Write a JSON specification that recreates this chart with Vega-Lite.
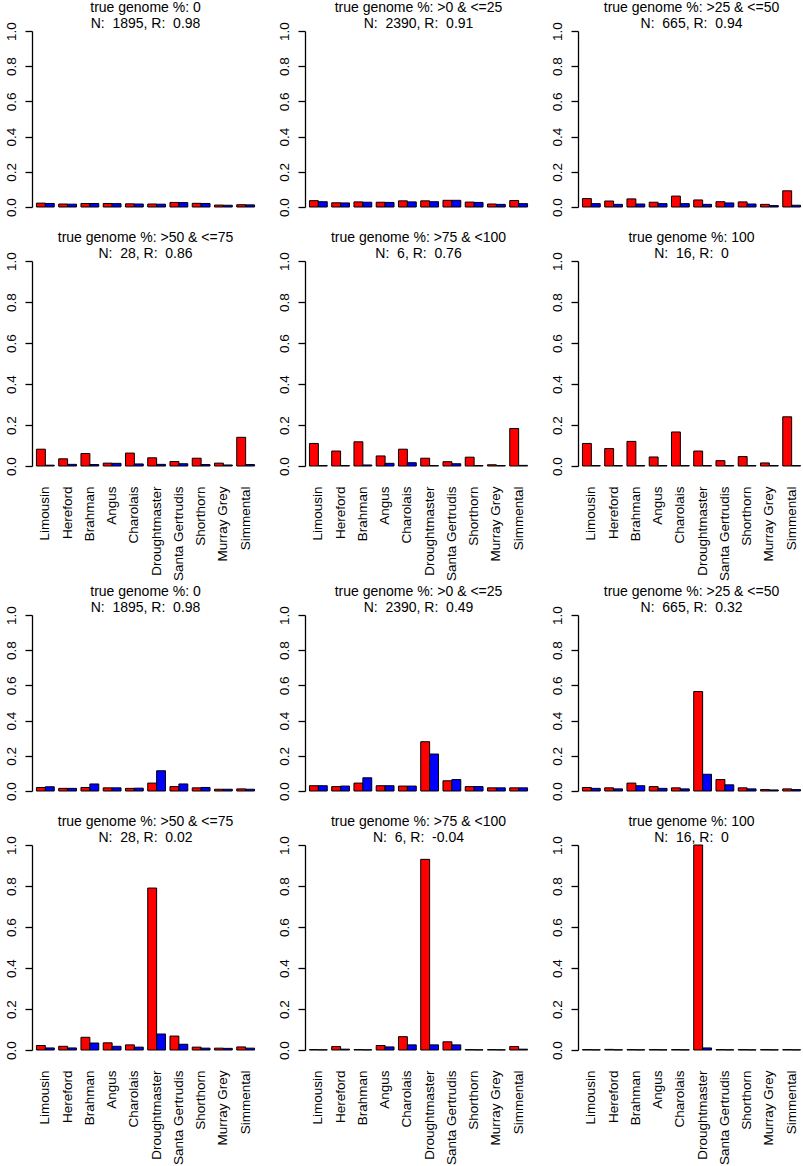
{
  "$schema": "https://vega.github.io/schema/vega-lite/v6.json",
  "padding": {"left": 4, "top": 0, "right": 0, "bottom": 0},
  "background": "white",
  "datasets": {
    "d": [
      {"panel": 1, "breed": "Limousin", "series": "A", "value": 0.022},
      {"panel": 1, "breed": "Limousin", "series": "B", "value": 0.020},
      {"panel": 1, "breed": "Hereford", "series": "A", "value": 0.017},
      {"panel": 1, "breed": "Hereford", "series": "B", "value": 0.016},
      {"panel": 1, "breed": "Brahman", "series": "A", "value": 0.020},
      {"panel": 1, "breed": "Brahman", "series": "B", "value": 0.020},
      {"panel": 1, "breed": "Angus", "series": "A", "value": 0.020},
      {"panel": 1, "breed": "Angus", "series": "B", "value": 0.019},
      {"panel": 1, "breed": "Charolais", "series": "A", "value": 0.018},
      {"panel": 1, "breed": "Charolais", "series": "B", "value": 0.017},
      {"panel": 1, "breed": "Droughtmaster", "series": "A", "value": 0.017},
      {"panel": 1, "breed": "Droughtmaster", "series": "B", "value": 0.016},
      {"panel": 1, "breed": "Santa Gertrudis", "series": "A", "value": 0.026},
      {"panel": 1, "breed": "Santa Gertrudis", "series": "B", "value": 0.025},
      {"panel": 1, "breed": "Shorthorn", "series": "A", "value": 0.021},
      {"panel": 1, "breed": "Shorthorn", "series": "B", "value": 0.020},
      {"panel": 1, "breed": "Murray Grey", "series": "A", "value": 0.011},
      {"panel": 1, "breed": "Murray Grey", "series": "B", "value": 0.010},
      {"panel": 1, "breed": "Simmental", "series": "A", "value": 0.013},
      {"panel": 1, "breed": "Simmental", "series": "B", "value": 0.012},

      {"panel": 2, "breed": "Limousin", "series": "A", "value": 0.036},
      {"panel": 2, "breed": "Limousin", "series": "B", "value": 0.030},
      {"panel": 2, "breed": "Hereford", "series": "A", "value": 0.024},
      {"panel": 2, "breed": "Hereford", "series": "B", "value": 0.023},
      {"panel": 2, "breed": "Brahman", "series": "A", "value": 0.029},
      {"panel": 2, "breed": "Brahman", "series": "B", "value": 0.027},
      {"panel": 2, "breed": "Angus", "series": "A", "value": 0.027},
      {"panel": 2, "breed": "Angus", "series": "B", "value": 0.026},
      {"panel": 2, "breed": "Charolais", "series": "A", "value": 0.035},
      {"panel": 2, "breed": "Charolais", "series": "B", "value": 0.029},
      {"panel": 2, "breed": "Droughtmaster", "series": "A", "value": 0.035},
      {"panel": 2, "breed": "Droughtmaster", "series": "B", "value": 0.030},
      {"panel": 2, "breed": "Santa Gertrudis", "series": "A", "value": 0.038},
      {"panel": 2, "breed": "Santa Gertrudis", "series": "B", "value": 0.038},
      {"panel": 2, "breed": "Shorthorn", "series": "A", "value": 0.028},
      {"panel": 2, "breed": "Shorthorn", "series": "B", "value": 0.026},
      {"panel": 2, "breed": "Murray Grey", "series": "A", "value": 0.017},
      {"panel": 2, "breed": "Murray Grey", "series": "B", "value": 0.015},
      {"panel": 2, "breed": "Simmental", "series": "A", "value": 0.037},
      {"panel": 2, "breed": "Simmental", "series": "B", "value": 0.019},

      {"panel": 3, "breed": "Limousin", "series": "A", "value": 0.048},
      {"panel": 3, "breed": "Limousin", "series": "B", "value": 0.019},
      {"panel": 3, "breed": "Hereford", "series": "A", "value": 0.034},
      {"panel": 3, "breed": "Hereford", "series": "B", "value": 0.015},
      {"panel": 3, "breed": "Brahman", "series": "A", "value": 0.046},
      {"panel": 3, "breed": "Brahman", "series": "B", "value": 0.017},
      {"panel": 3, "breed": "Angus", "series": "A", "value": 0.027},
      {"panel": 3, "breed": "Angus", "series": "B", "value": 0.019},
      {"panel": 3, "breed": "Charolais", "series": "A", "value": 0.062},
      {"panel": 3, "breed": "Charolais", "series": "B", "value": 0.019},
      {"panel": 3, "breed": "Droughtmaster", "series": "A", "value": 0.040},
      {"panel": 3, "breed": "Droughtmaster", "series": "B", "value": 0.015},
      {"panel": 3, "breed": "Santa Gertrudis", "series": "A", "value": 0.030},
      {"panel": 3, "breed": "Santa Gertrudis", "series": "B", "value": 0.023},
      {"panel": 3, "breed": "Shorthorn", "series": "A", "value": 0.029},
      {"panel": 3, "breed": "Shorthorn", "series": "B", "value": 0.017},
      {"panel": 3, "breed": "Murray Grey", "series": "A", "value": 0.015},
      {"panel": 3, "breed": "Murray Grey", "series": "B", "value": 0.008},
      {"panel": 3, "breed": "Simmental", "series": "A", "value": 0.092},
      {"panel": 3, "breed": "Simmental", "series": "B", "value": 0.010},

      {"panel": 4, "breed": "Limousin", "series": "A", "value": 0.082},
      {"panel": 4, "breed": "Limousin", "series": "B", "value": 0.004},
      {"panel": 4, "breed": "Hereford", "series": "A", "value": 0.035},
      {"panel": 4, "breed": "Hereford", "series": "B", "value": 0.008},
      {"panel": 4, "breed": "Brahman", "series": "A", "value": 0.061},
      {"panel": 4, "breed": "Brahman", "series": "B", "value": 0.007},
      {"panel": 4, "breed": "Angus", "series": "A", "value": 0.014},
      {"panel": 4, "breed": "Angus", "series": "B", "value": 0.013},
      {"panel": 4, "breed": "Charolais", "series": "A", "value": 0.063},
      {"panel": 4, "breed": "Charolais", "series": "B", "value": 0.010},
      {"panel": 4, "breed": "Droughtmaster", "series": "A", "value": 0.040},
      {"panel": 4, "breed": "Droughtmaster", "series": "B", "value": 0.008},
      {"panel": 4, "breed": "Santa Gertrudis", "series": "A", "value": 0.022},
      {"panel": 4, "breed": "Santa Gertrudis", "series": "B", "value": 0.011},
      {"panel": 4, "breed": "Shorthorn", "series": "A", "value": 0.038},
      {"panel": 4, "breed": "Shorthorn", "series": "B", "value": 0.007},
      {"panel": 4, "breed": "Murray Grey", "series": "A", "value": 0.014},
      {"panel": 4, "breed": "Murray Grey", "series": "B", "value": 0.005},
      {"panel": 4, "breed": "Simmental", "series": "A", "value": 0.140},
      {"panel": 4, "breed": "Simmental", "series": "B", "value": 0.007},

      {"panel": 5, "breed": "Limousin", "series": "A", "value": 0.110},
      {"panel": 5, "breed": "Limousin", "series": "B", "value": 0.002},
      {"panel": 5, "breed": "Hereford", "series": "A", "value": 0.073},
      {"panel": 5, "breed": "Hereford", "series": "B", "value": 0.002},
      {"panel": 5, "breed": "Brahman", "series": "A", "value": 0.118},
      {"panel": 5, "breed": "Brahman", "series": "B", "value": 0.005},
      {"panel": 5, "breed": "Angus", "series": "A", "value": 0.049},
      {"panel": 5, "breed": "Angus", "series": "B", "value": 0.013},
      {"panel": 5, "breed": "Charolais", "series": "A", "value": 0.082},
      {"panel": 5, "breed": "Charolais", "series": "B", "value": 0.016},
      {"panel": 5, "breed": "Droughtmaster", "series": "A", "value": 0.038},
      {"panel": 5, "breed": "Droughtmaster", "series": "B", "value": 0.002},
      {"panel": 5, "breed": "Santa Gertrudis", "series": "A", "value": 0.021},
      {"panel": 5, "breed": "Santa Gertrudis", "series": "B", "value": 0.011},
      {"panel": 5, "breed": "Shorthorn", "series": "A", "value": 0.043},
      {"panel": 5, "breed": "Shorthorn", "series": "B", "value": 0.002},
      {"panel": 5, "breed": "Murray Grey", "series": "A", "value": 0.006},
      {"panel": 5, "breed": "Murray Grey", "series": "B", "value": 0.002},
      {"panel": 5, "breed": "Simmental", "series": "A", "value": 0.183},
      {"panel": 5, "breed": "Simmental", "series": "B", "value": 0.003},

      {"panel": 6, "breed": "Limousin", "series": "A", "value": 0.110},
      {"panel": 6, "breed": "Limousin", "series": "B", "value": 0.002},
      {"panel": 6, "breed": "Hereford", "series": "A", "value": 0.085},
      {"panel": 6, "breed": "Hereford", "series": "B", "value": 0.002},
      {"panel": 6, "breed": "Brahman", "series": "A", "value": 0.120},
      {"panel": 6, "breed": "Brahman", "series": "B", "value": 0.002},
      {"panel": 6, "breed": "Angus", "series": "A", "value": 0.044},
      {"panel": 6, "breed": "Angus", "series": "B", "value": 0.002},
      {"panel": 6, "breed": "Charolais", "series": "A", "value": 0.166},
      {"panel": 6, "breed": "Charolais", "series": "B", "value": 0.002},
      {"panel": 6, "breed": "Droughtmaster", "series": "A", "value": 0.073},
      {"panel": 6, "breed": "Droughtmaster", "series": "B", "value": 0.002},
      {"panel": 6, "breed": "Santa Gertrudis", "series": "A", "value": 0.026},
      {"panel": 6, "breed": "Santa Gertrudis", "series": "B", "value": 0.002},
      {"panel": 6, "breed": "Shorthorn", "series": "A", "value": 0.046},
      {"panel": 6, "breed": "Shorthorn", "series": "B", "value": 0.002},
      {"panel": 6, "breed": "Murray Grey", "series": "A", "value": 0.015},
      {"panel": 6, "breed": "Murray Grey", "series": "B", "value": 0.002},
      {"panel": 6, "breed": "Simmental", "series": "A", "value": 0.240},
      {"panel": 6, "breed": "Simmental", "series": "B", "value": 0.002},

      {"panel": 7, "breed": "Limousin", "series": "A", "value": 0.020},
      {"panel": 7, "breed": "Limousin", "series": "B", "value": 0.024},
      {"panel": 7, "breed": "Hereford", "series": "A", "value": 0.015},
      {"panel": 7, "breed": "Hereford", "series": "B", "value": 0.015},
      {"panel": 7, "breed": "Brahman", "series": "A", "value": 0.020},
      {"panel": 7, "breed": "Brahman", "series": "B", "value": 0.040},
      {"panel": 7, "breed": "Angus", "series": "A", "value": 0.018},
      {"panel": 7, "breed": "Angus", "series": "B", "value": 0.018},
      {"panel": 7, "breed": "Charolais", "series": "A", "value": 0.015},
      {"panel": 7, "breed": "Charolais", "series": "B", "value": 0.016},
      {"panel": 7, "breed": "Droughtmaster", "series": "A", "value": 0.045},
      {"panel": 7, "breed": "Droughtmaster", "series": "B", "value": 0.115},
      {"panel": 7, "breed": "Santa Gertrudis", "series": "A", "value": 0.025},
      {"panel": 7, "breed": "Santa Gertrudis", "series": "B", "value": 0.040},
      {"panel": 7, "breed": "Shorthorn", "series": "A", "value": 0.018},
      {"panel": 7, "breed": "Shorthorn", "series": "B", "value": 0.020},
      {"panel": 7, "breed": "Murray Grey", "series": "A", "value": 0.010},
      {"panel": 7, "breed": "Murray Grey", "series": "B", "value": 0.010},
      {"panel": 7, "breed": "Simmental", "series": "A", "value": 0.012},
      {"panel": 7, "breed": "Simmental", "series": "B", "value": 0.010},

      {"panel": 8, "breed": "Limousin", "series": "A", "value": 0.030},
      {"panel": 8, "breed": "Limousin", "series": "B", "value": 0.030},
      {"panel": 8, "breed": "Hereford", "series": "A", "value": 0.025},
      {"panel": 8, "breed": "Hereford", "series": "B", "value": 0.028},
      {"panel": 8, "breed": "Brahman", "series": "A", "value": 0.045},
      {"panel": 8, "breed": "Brahman", "series": "B", "value": 0.075},
      {"panel": 8, "breed": "Angus", "series": "A", "value": 0.030},
      {"panel": 8, "breed": "Angus", "series": "B", "value": 0.030},
      {"panel": 8, "breed": "Charolais", "series": "A", "value": 0.028},
      {"panel": 8, "breed": "Charolais", "series": "B", "value": 0.028},
      {"panel": 8, "breed": "Droughtmaster", "series": "A", "value": 0.280},
      {"panel": 8, "breed": "Droughtmaster", "series": "B", "value": 0.210},
      {"panel": 8, "breed": "Santa Gertrudis", "series": "A", "value": 0.058},
      {"panel": 8, "breed": "Santa Gertrudis", "series": "B", "value": 0.065},
      {"panel": 8, "breed": "Shorthorn", "series": "A", "value": 0.025},
      {"panel": 8, "breed": "Shorthorn", "series": "B", "value": 0.025},
      {"panel": 8, "breed": "Murray Grey", "series": "A", "value": 0.018},
      {"panel": 8, "breed": "Murray Grey", "series": "B", "value": 0.018},
      {"panel": 8, "breed": "Simmental", "series": "A", "value": 0.018},
      {"panel": 8, "breed": "Simmental", "series": "B", "value": 0.018},

      {"panel": 9, "breed": "Limousin", "series": "A", "value": 0.020},
      {"panel": 9, "breed": "Limousin", "series": "B", "value": 0.015},
      {"panel": 9, "breed": "Hereford", "series": "A", "value": 0.018},
      {"panel": 9, "breed": "Hereford", "series": "B", "value": 0.012},
      {"panel": 9, "breed": "Brahman", "series": "A", "value": 0.045},
      {"panel": 9, "breed": "Brahman", "series": "B", "value": 0.030},
      {"panel": 9, "breed": "Angus", "series": "A", "value": 0.025},
      {"panel": 9, "breed": "Angus", "series": "B", "value": 0.015},
      {"panel": 9, "breed": "Charolais", "series": "A", "value": 0.018},
      {"panel": 9, "breed": "Charolais", "series": "B", "value": 0.012},
      {"panel": 9, "breed": "Droughtmaster", "series": "A", "value": 0.565},
      {"panel": 9, "breed": "Droughtmaster", "series": "B", "value": 0.095},
      {"panel": 9, "breed": "Santa Gertrudis", "series": "A", "value": 0.065},
      {"panel": 9, "breed": "Santa Gertrudis", "series": "B", "value": 0.035},
      {"panel": 9, "breed": "Shorthorn", "series": "A", "value": 0.018},
      {"panel": 9, "breed": "Shorthorn", "series": "B", "value": 0.012},
      {"panel": 9, "breed": "Murray Grey", "series": "A", "value": 0.008},
      {"panel": 9, "breed": "Murray Grey", "series": "B", "value": 0.006},
      {"panel": 9, "breed": "Simmental", "series": "A", "value": 0.012},
      {"panel": 9, "breed": "Simmental", "series": "B", "value": 0.008},

      {"panel": 10, "breed": "Limousin", "series": "A", "value": 0.022},
      {"panel": 10, "breed": "Limousin", "series": "B", "value": 0.010},
      {"panel": 10, "breed": "Hereford", "series": "A", "value": 0.018},
      {"panel": 10, "breed": "Hereford", "series": "B", "value": 0.010},
      {"panel": 10, "breed": "Brahman", "series": "A", "value": 0.062},
      {"panel": 10, "breed": "Brahman", "series": "B", "value": 0.034},
      {"panel": 10, "breed": "Angus", "series": "A", "value": 0.035},
      {"panel": 10, "breed": "Angus", "series": "B", "value": 0.018},
      {"panel": 10, "breed": "Charolais", "series": "A", "value": 0.025},
      {"panel": 10, "breed": "Charolais", "series": "B", "value": 0.014},
      {"panel": 10, "breed": "Droughtmaster", "series": "A", "value": 0.790},
      {"panel": 10, "breed": "Droughtmaster", "series": "B", "value": 0.078},
      {"panel": 10, "breed": "Santa Gertrudis", "series": "A", "value": 0.068},
      {"panel": 10, "breed": "Santa Gertrudis", "series": "B", "value": 0.028},
      {"panel": 10, "breed": "Shorthorn", "series": "A", "value": 0.014},
      {"panel": 10, "breed": "Shorthorn", "series": "B", "value": 0.009},
      {"panel": 10, "breed": "Murray Grey", "series": "A", "value": 0.009},
      {"panel": 10, "breed": "Murray Grey", "series": "B", "value": 0.008},
      {"panel": 10, "breed": "Simmental", "series": "A", "value": 0.015},
      {"panel": 10, "breed": "Simmental", "series": "B", "value": 0.009},

      {"panel": 11, "breed": "Limousin", "series": "A", "value": 0.002},
      {"panel": 11, "breed": "Limousin", "series": "B", "value": 0.001},
      {"panel": 11, "breed": "Hereford", "series": "A", "value": 0.017},
      {"panel": 11, "breed": "Hereford", "series": "B", "value": 0.004},
      {"panel": 11, "breed": "Brahman", "series": "A", "value": 0.002},
      {"panel": 11, "breed": "Brahman", "series": "B", "value": 0.001},
      {"panel": 11, "breed": "Angus", "series": "A", "value": 0.022},
      {"panel": 11, "breed": "Angus", "series": "B", "value": 0.015},
      {"panel": 11, "breed": "Charolais", "series": "A", "value": 0.065},
      {"panel": 11, "breed": "Charolais", "series": "B", "value": 0.025},
      {"panel": 11, "breed": "Droughtmaster", "series": "A", "value": 0.930},
      {"panel": 11, "breed": "Droughtmaster", "series": "B", "value": 0.025},
      {"panel": 11, "breed": "Santa Gertrudis", "series": "A", "value": 0.040},
      {"panel": 11, "breed": "Santa Gertrudis", "series": "B", "value": 0.025},
      {"panel": 11, "breed": "Shorthorn", "series": "A", "value": 0.002},
      {"panel": 11, "breed": "Shorthorn", "series": "B", "value": 0.001},
      {"panel": 11, "breed": "Murray Grey", "series": "A", "value": 0.002},
      {"panel": 11, "breed": "Murray Grey", "series": "B", "value": 0.001},
      {"panel": 11, "breed": "Simmental", "series": "A", "value": 0.017},
      {"panel": 11, "breed": "Simmental", "series": "B", "value": 0.004},

      {"panel": 12, "breed": "Limousin", "series": "A", "value": 0.002},
      {"panel": 12, "breed": "Limousin", "series": "B", "value": 0.001},
      {"panel": 12, "breed": "Hereford", "series": "A", "value": 0.003},
      {"panel": 12, "breed": "Hereford", "series": "B", "value": 0.001},
      {"panel": 12, "breed": "Brahman", "series": "A", "value": 0.002},
      {"panel": 12, "breed": "Brahman", "series": "B", "value": 0.001},
      {"panel": 12, "breed": "Angus", "series": "A", "value": 0.002},
      {"panel": 12, "breed": "Angus", "series": "B", "value": 0.001},
      {"panel": 12, "breed": "Charolais", "series": "A", "value": 0.002},
      {"panel": 12, "breed": "Charolais", "series": "B", "value": 0.001},
      {"panel": 12, "breed": "Droughtmaster", "series": "A", "value": 1.0},
      {"panel": 12, "breed": "Droughtmaster", "series": "B", "value": 0.010},
      {"panel": 12, "breed": "Santa Gertrudis", "series": "A", "value": 0.002},
      {"panel": 12, "breed": "Santa Gertrudis", "series": "B", "value": 0.001},
      {"panel": 12, "breed": "Shorthorn", "series": "A", "value": 0.002},
      {"panel": 12, "breed": "Shorthorn", "series": "B", "value": 0.001},
      {"panel": 12, "breed": "Murray Grey", "series": "A", "value": 0.002},
      {"panel": 12, "breed": "Murray Grey", "series": "B", "value": 0.001},
      {"panel": 12, "breed": "Simmental", "series": "A", "value": 0.002},
      {"panel": 12, "breed": "Simmental", "series": "B", "value": 0.001}
    ]
  },
  "data": {"name": "d"},
  "spacing": 3,
  "vconcat": [
    {
      "spacing": 13,
      "vconcat": [
        {
          "spacing": 18,
          "hconcat": [
            {
              "title": {"text": ["true genome %: 0", "N: \u00a01895, R: \u00a00.98"]},
              "width": 227, "height": 176,
              "transform": [{"filter": "datum.panel == 1"}],
              "mark": "bar",
              "encoding": {
                "x": {"field": "breed", "type": "nominal", "sort": null, "axis": null},
                "xOffset": {"field": "series", "sort": null},
                "y": {"field": "value", "type": "quantitative", "title": null, "scale": {"domain": [0, 1]}},
                "color": {"field": "series", "legend": null, "scale": {"range": ["#ff0000", "#0000ff"]}}
              }
            },
            {
              "title": {"text": ["true genome %: >0 & <=25", "N: \u00a02390, R: \u00a00.91"]},
              "width": 227, "height": 176,
              "transform": [{"filter": "datum.panel == 2"}],
              "mark": "bar",
              "encoding": {
                "x": {"field": "breed", "type": "nominal", "sort": null, "axis": null},
                "xOffset": {"field": "series", "sort": null},
                "y": {"field": "value", "type": "quantitative", "title": null, "scale": {"domain": [0, 1]}},
                "color": {"field": "series", "legend": null, "scale": {"range": ["#ff0000", "#0000ff"]}}
              }
            },
            {
              "title": {"text": ["true genome %: >25 & <=50", "N: \u00a0665, R: \u00a00.94"]},
              "width": 227, "height": 176,
              "transform": [{"filter": "datum.panel == 3"}],
              "mark": "bar",
              "encoding": {
                "x": {"field": "breed", "type": "nominal", "sort": null, "axis": null},
                "xOffset": {"field": "series", "sort": null},
                "y": {"field": "value", "type": "quantitative", "title": null, "scale": {"domain": [0, 1]}},
                "color": {"field": "series", "legend": null, "scale": {"range": ["#ff0000", "#0000ff"]}}
              }
            }
          ]
        },
        {
          "spacing": 18,
          "hconcat": [
            {
              "title": {"text": ["true genome %: >50 & <=75", "N: \u00a028, R: \u00a00.86"]},
              "width": 227, "height": 205,
              "transform": [{"filter": "datum.panel == 4"}],
              "mark": "bar",
              "encoding": {
                "x": {"field": "breed", "type": "nominal", "sort": null, "title": null},
                "xOffset": {"field": "series", "sort": null},
                "y": {"field": "value", "type": "quantitative", "title": null, "scale": {"domain": [0, 1]}},
                "color": {"field": "series", "legend": null, "scale": {"range": ["#ff0000", "#0000ff"]}}
              }
            },
            {
              "title": {"text": ["true genome %: >75 & <100", "N: \u00a06, R: \u00a00.76"]},
              "width": 227, "height": 205,
              "transform": [{"filter": "datum.panel == 5"}],
              "mark": "bar",
              "encoding": {
                "x": {"field": "breed", "type": "nominal", "sort": null, "title": null},
                "xOffset": {"field": "series", "sort": null},
                "y": {"field": "value", "type": "quantitative", "title": null, "scale": {"domain": [0, 1]}},
                "color": {"field": "series", "legend": null, "scale": {"range": ["#ff0000", "#0000ff"]}}
              }
            },
            {
              "title": {"text": ["true genome %: 100", "N: \u00a016, R: \u00a00"]},
              "width": 227, "height": 205,
              "transform": [{"filter": "datum.panel == 6"}],
              "mark": "bar",
              "encoding": {
                "x": {"field": "breed", "type": "nominal", "sort": null, "title": null},
                "xOffset": {"field": "series", "sort": null},
                "y": {"field": "value", "type": "quantitative", "title": null, "scale": {"domain": [0, 1]}},
                "color": {"field": "series", "legend": null, "scale": {"range": ["#ff0000", "#0000ff"]}}
              }
            }
          ]
        }
      ]
    },
    {
      "spacing": 13,
      "vconcat": [
        {
          "spacing": 18,
          "hconcat": [
            {
              "title": {"text": ["true genome %: 0", "N: \u00a01895, R: \u00a00.98"]},
              "width": 227, "height": 176,
              "transform": [{"filter": "datum.panel == 7"}],
              "mark": "bar",
              "encoding": {
                "x": {"field": "breed", "type": "nominal", "sort": null, "axis": null},
                "xOffset": {"field": "series", "sort": null},
                "y": {"field": "value", "type": "quantitative", "title": null, "scale": {"domain": [0, 1]}},
                "color": {"field": "series", "legend": null, "scale": {"range": ["#ff0000", "#0000ff"]}}
              }
            },
            {
              "title": {"text": ["true genome %: >0 & <=25", "N: \u00a02390, R: \u00a00.49"]},
              "width": 227, "height": 176,
              "transform": [{"filter": "datum.panel == 8"}],
              "mark": "bar",
              "encoding": {
                "x": {"field": "breed", "type": "nominal", "sort": null, "axis": null},
                "xOffset": {"field": "series", "sort": null},
                "y": {"field": "value", "type": "quantitative", "title": null, "scale": {"domain": [0, 1]}},
                "color": {"field": "series", "legend": null, "scale": {"range": ["#ff0000", "#0000ff"]}}
              }
            },
            {
              "title": {"text": ["true genome %: >25 & <=50", "N: \u00a0665, R: \u00a00.32"]},
              "width": 227, "height": 176,
              "transform": [{"filter": "datum.panel == 9"}],
              "mark": "bar",
              "encoding": {
                "x": {"field": "breed", "type": "nominal", "sort": null, "axis": null},
                "xOffset": {"field": "series", "sort": null},
                "y": {"field": "value", "type": "quantitative", "title": null, "scale": {"domain": [0, 1]}},
                "color": {"field": "series", "legend": null, "scale": {"range": ["#ff0000", "#0000ff"]}}
              }
            }
          ]
        },
        {
          "spacing": 18,
          "hconcat": [
            {
              "title": {"text": ["true genome %: >50 & <=75", "N: \u00a028, R: \u00a00.02"]},
              "width": 227, "height": 205,
              "transform": [{"filter": "datum.panel == 10"}],
              "mark": "bar",
              "encoding": {
                "x": {"field": "breed", "type": "nominal", "sort": null, "title": null},
                "xOffset": {"field": "series", "sort": null},
                "y": {"field": "value", "type": "quantitative", "title": null, "scale": {"domain": [0, 1]}},
                "color": {"field": "series", "legend": null, "scale": {"range": ["#ff0000", "#0000ff"]}}
              }
            },
            {
              "title": {"text": ["true genome %: >75 & <100", "N: \u00a06, R: \u00a0-0.04"]},
              "width": 227, "height": 205,
              "transform": [{"filter": "datum.panel == 11"}],
              "mark": "bar",
              "encoding": {
                "x": {"field": "breed", "type": "nominal", "sort": null, "title": null},
                "xOffset": {"field": "series", "sort": null},
                "y": {"field": "value", "type": "quantitative", "title": null, "scale": {"domain": [0, 1]}},
                "color": {"field": "series", "legend": null, "scale": {"range": ["#ff0000", "#0000ff"]}}
              }
            },
            {
              "title": {"text": ["true genome %: 100", "N: \u00a016, R: \u00a00"]},
              "width": 227, "height": 205,
              "transform": [{"filter": "datum.panel == 12"}],
              "mark": "bar",
              "encoding": {
                "x": {"field": "breed", "type": "nominal", "sort": null, "title": null},
                "xOffset": {"field": "series", "sort": null},
                "y": {"field": "value", "type": "quantitative", "title": null, "scale": {"domain": [0, 1]}},
                "color": {"field": "series", "legend": null, "scale": {"range": ["#ff0000", "#0000ff"]}}
              }
            }
          ]
        }
      ]
    }
  ],
  "config": {
    "font": "Liberation Sans",
    "view": {"stroke": null},
    "scale": {
      "bandPaddingInner": 0.3333,
      "bandPaddingOuter": 0.387,
      "offsetBandPaddingInner": 0,
      "offsetBandPaddingOuter": 0
    },
    "bar": {"stroke": "#000000", "strokeWidth": 1},
    "axis": {"labelFontSize": 13.5, "labelColor": "#000000"},
    "axisY": {
      "grid": false,
      "domainColor": "#000000",
      "domainWidth": 1.3,
      "tickColor": "#000000",
      "tickWidth": 1.3,
      "tickSize": 7,
      "labelAngle": -90,
      "labelAlign": "center",
      "labelBaseline": "bottom",
      "labelPadding": 7,
      "labelFontSize": 13.5
    },
    "axisX": {
      "domain": false,
      "ticks": false,
      "tickSize": 0,
      "labelAngle": -90,
      "labelAlign": "right",
      "labelBaseline": "middle",
      "labelPadding": 20,
      "labelFontSize": 13.5
    },
    "title": {
      "fontSize": 14,
      "fontWeight": "normal",
      "color": "#000000",
      "lineHeight": 16,
      "offset": -9,
      "frame": "group",
      "anchor": "middle"
    }
  }
}
